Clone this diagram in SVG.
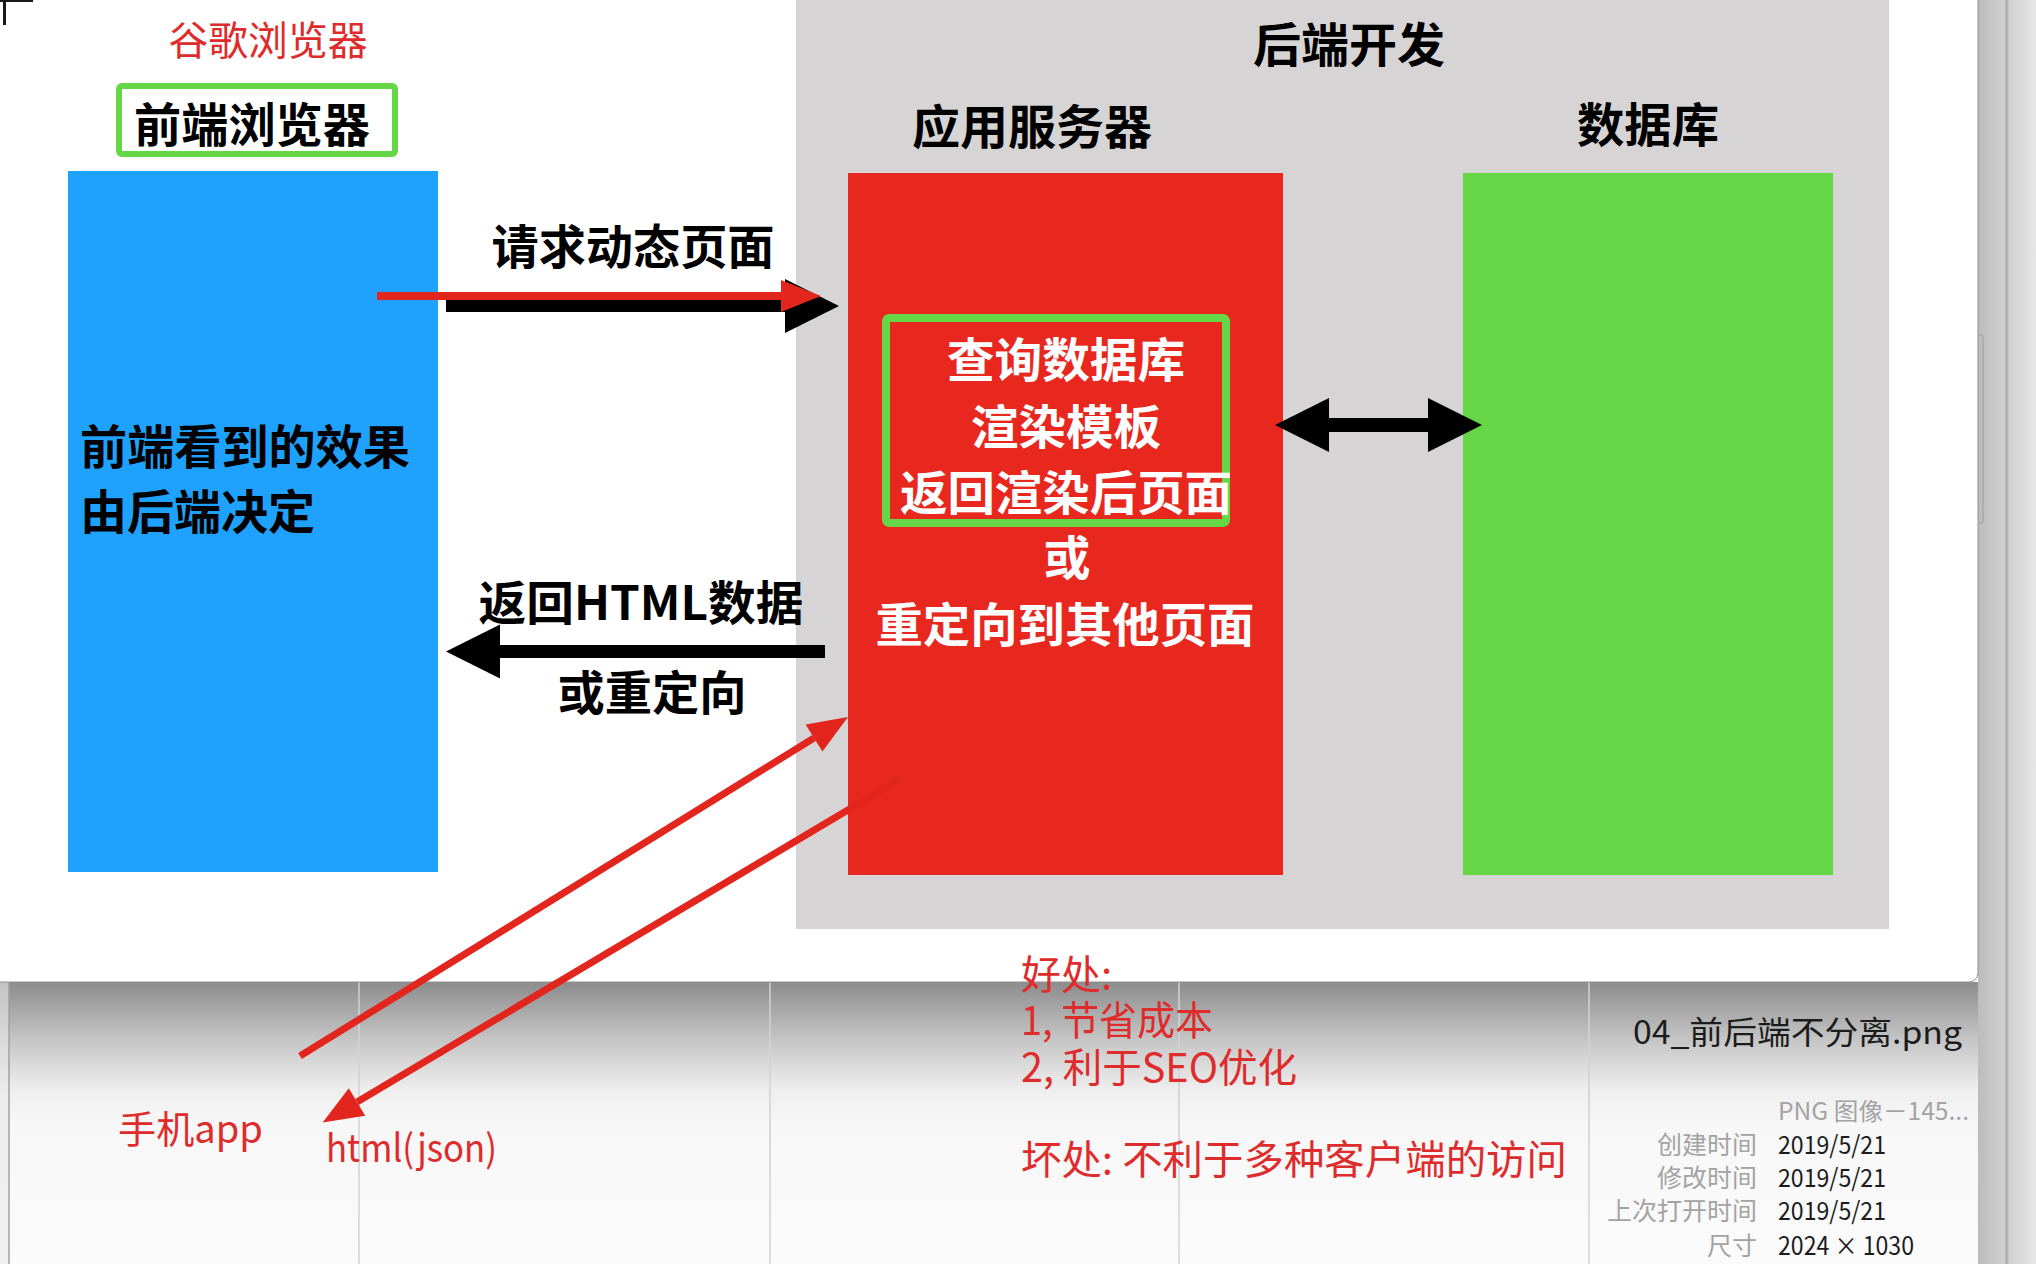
<svg xmlns="http://www.w3.org/2000/svg" width="2036" height="1264" viewBox="0 0 2036 1264">
  <style>
    .bold { font-family: "Noto Sans CJK SC", "Noto Sans", sans-serif; font-weight: 700; font-size: 47px; }
    .blk { fill: #000000; }
    .wht { fill: #ffffff; }
    .note { font-family: "Noto Sans CJK SC", "Noto Sans", sans-serif; font-weight: 400; font-size: 40px; fill: #de2b2b; }
    .finder { font-family: "Noto Sans CJK SC", "Noto Sans", sans-serif; font-weight: 400; font-size: 25px; }
    .lbl { fill: #a3a3a3; }
    .val { fill: #1c1c1c; }
    .divider { stroke: #d2d2d2; stroke-width: 1.5; }
    .blackArrow { stroke: #000000; fill: none; }
    .redArrow { stroke: #e2261e; fill: none; stroke-width: 7; }
  </style>
  <defs>
    <marker id="headBlack" markerUnits="userSpaceOnUse" viewBox="0 -30 56 60" markerWidth="56" markerHeight="60" refX="0" refY="0" orient="auto-start-reverse" overflow="visible">
      <path d="M0,-27 L54,0 L0,27 z" fill="#000000"/>
    </marker>
    <marker id="headRed" markerUnits="userSpaceOnUse" viewBox="0 -20 42 40" markerWidth="42" markerHeight="40" refX="0" refY="0" orient="auto" overflow="visible">
      <path d="M0,-16 L40,0 L0,16 z" fill="#e2261e"/>
    </marker>
    <linearGradient id="shadowGrad" x1="0" y1="0" x2="0" y2="1">
      <stop offset="0" stop-color="#8c8c8c"/>
      <stop offset="0.2" stop-color="#c4c4c4"/>
      <stop offset="0.38" stop-color="#eeeeee"/>
      <stop offset="0.5" stop-color="#f7f7f7"/>
      <stop offset="1" stop-color="#fbfbfb"/>
    </linearGradient>
    <linearGradient id="rightGrad" x1="0" y1="0" x2="1" y2="0">
      <stop offset="0" stop-color="#bcbcbc"/>
      <stop offset="0.45" stop-color="#cfcfcf"/>
      <stop offset="0.5" stop-color="#a6a6a6"/>
      <stop offset="0.53" stop-color="#d0d0d0"/>
      <stop offset="1" stop-color="#e6e6e6"/>
    </linearGradient>
  </defs>

  <!-- background window -->
  <g id="background">
    <rect x="0" y="0" width="2036" height="1264" fill="#fbfbfb"/>
    <rect x="0" y="982" width="2036" height="282" fill="url(#shadowGrad)"/>
    <rect x="0" y="982" width="9" height="282" fill="#e8e8e8" opacity="0.6"/>
    <line class="divider" x1="9" y1="982" x2="9" y2="1264" style="stroke:#a0a0a0"/>
    <line class="divider" x1="359" y1="982" x2="359" y2="1264"/>
    <line class="divider" x1="770" y1="982" x2="770" y2="1264"/>
    <line class="divider" x1="1179" y1="982" x2="1179" y2="1264"/>
    <line class="divider" x1="1589" y1="982" x2="1589" y2="1264"/>
    <rect x="1978" y="0" width="58" height="1264" fill="url(#rightGrad)"/>
    <rect x="-10" y="-10" width="1988" height="992" rx="9" fill="#ffffff" stroke="#8f8f8f" stroke-width="1"/>
    <path d="M1978,335 L1981,335 Q1983,335 1983,338 L1983,520 Q1983,523 1981,523 L1978,523" fill="none" stroke="#a8a8a8" stroke-width="1.5"/>
    <rect x="0" y="0" width="33" height="2" fill="#1a1a1a"/>
    <rect x="3" y="0" width="3" height="25" fill="#1a1a1a"/>
  </g>

  <!-- backend area -->
  <g id="backend">
    <rect x="796" y="-10" width="1093" height="939" fill="#d6d4d5"/>
    <text class="bold blk" x="1349" y="62" text-anchor="middle" textLength="192" lengthAdjust="spacingAndGlyphs">后端开发</text>
  </g>

  <!-- browser node -->
  <g id="browser">
    <text class="note" x="268" y="55" text-anchor="middle" textLength="199" lengthAdjust="spacingAndGlyphs">谷歌浏览器</text>
    <rect x="119" y="86" width="276" height="68" rx="3" fill="#ffffff" stroke="#65d645" stroke-width="6"/>
    <text class="bold blk" x="252" y="142" text-anchor="middle" textLength="236" lengthAdjust="spacingAndGlyphs">前端浏览器</text>
    <rect x="68" y="171" width="370" height="701" fill="#1ea2fe"/>
    <text class="bold blk" x="80" y="464" textLength="330" lengthAdjust="spacingAndGlyphs">前端看到的效果</text>
    <text class="bold blk" x="80" y="529" textLength="235" lengthAdjust="spacingAndGlyphs">由后端决定</text>
  </g>

  <!-- app server node -->
  <g id="server">
    <text class="bold blk" x="1032" y="144" text-anchor="middle" textLength="240" lengthAdjust="spacingAndGlyphs">应用服务器</text>
    <rect x="848" y="173" width="435" height="702" fill="#e8271f"/>
    <rect x="886" y="318" width="340" height="205" rx="3" fill="none" stroke="#65d645" stroke-width="8"/>
    <text class="bold wht" x="1066" y="377" text-anchor="middle" textLength="238" lengthAdjust="spacingAndGlyphs">查询数据库</text>
    <text class="bold wht" x="1066" y="444" text-anchor="middle" textLength="190" lengthAdjust="spacingAndGlyphs">渲染模板</text>
    <text class="bold wht" x="1066" y="510" text-anchor="middle" textLength="332" lengthAdjust="spacingAndGlyphs">返回渲染后页面</text>
    <text class="bold wht" x="1067" y="575" text-anchor="middle">或</text>
    <text class="bold wht" x="1065" y="642" text-anchor="middle" textLength="379" lengthAdjust="spacingAndGlyphs">重定向到其他页面</text>
  </g>

  <!-- database node -->
  <g id="database">
    <text class="bold blk" x="1648" y="142" text-anchor="middle" textLength="142" lengthAdjust="spacingAndGlyphs">数据库</text>
    <rect x="1463" y="173" width="370" height="702" fill="#65d645"/>
  </g>

  <!-- mobile app node -->
  <g id="mobile">
    <text class="note" x="118" y="1143" style="font-size:38px" textLength="145" lengthAdjust="spacingAndGlyphs">手机app</text>
  </g>

  <!-- connectors -->
  <g id="connectors">
    <line class="blackArrow" x1="446" y1="306" x2="785" y2="306" stroke-width="12" marker-end="url(#headBlack)"/>
    <line class="redArrow" x1="377" y1="296" x2="781" y2="296" style="stroke-width:8" marker-end="url(#headRed)"/>
    <text class="bold blk" x="633" y="264" text-anchor="middle" textLength="283" lengthAdjust="spacingAndGlyphs">请求动态页面</text>

    <line class="blackArrow" x1="825" y1="651.5" x2="500" y2="651.5" stroke-width="13" marker-end="url(#headBlack)"/>
    <text class="bold blk" x="641" y="620" text-anchor="middle" textLength="325" lengthAdjust="spacingAndGlyphs">返回HTML数据</text>
    <text class="bold blk" x="652" y="710" text-anchor="middle" textLength="189" lengthAdjust="spacingAndGlyphs">或重定向</text>

    <line class="blackArrow" x1="1329" y1="425" x2="1428" y2="425" stroke-width="14" marker-start="url(#headBlack)" marker-end="url(#headBlack)"/>

    <line class="redArrow" x1="300" y1="1056" x2="814" y2="738" marker-end="url(#headRed)"/>
    <line class="redArrow" x1="900" y1="779" x2="357" y2="1102" marker-end="url(#headRed)"/>
    <text class="note" x="326" y="1162" style="font-size:38px" textLength="171" lengthAdjust="spacingAndGlyphs">html(json)</text>
  </g>

  <!-- notes -->
  <g id="notes">
    <text class="note">
      <tspan x="1021" y="989">好处:</tspan>
      <tspan x="1021" y="1035" textLength="192" lengthAdjust="spacingAndGlyphs">1, 节省成本</tspan>
      <tspan x="1021" y="1082" textLength="276" lengthAdjust="spacingAndGlyphs">2, 利于SEO优化</tspan>
      <tspan x="1021" y="1174" textLength="546" lengthAdjust="spacingAndGlyphs">坏处: 不利于多种客户端的访问</tspan>
    </text>
  </g>

  <!-- file info -->
  <g id="fileinfo">
    <text class="finder val" x="1633" y="1044" style="font-size:32px" textLength="329" lengthAdjust="spacingAndGlyphs">04_前后端不分离.png</text>
    <text class="finder lbl" x="1778" y="1120" style="font-size:24px" textLength="191" lengthAdjust="spacingAndGlyphs">PNG 图像－145...</text>
    <text class="finder lbl" x="1757" y="1154" text-anchor="end">创建时间</text>
    <text class="finder val" x="1778" y="1154" textLength="108" lengthAdjust="spacingAndGlyphs">2019/5/21</text>
    <text class="finder lbl" x="1757" y="1187" text-anchor="end">修改时间</text>
    <text class="finder val" x="1778" y="1187" textLength="108" lengthAdjust="spacingAndGlyphs">2019/5/21</text>
    <text class="finder lbl" x="1757" y="1220" text-anchor="end">上次打开时间</text>
    <text class="finder val" x="1778" y="1220" textLength="108" lengthAdjust="spacingAndGlyphs">2019/5/21</text>
    <text class="finder lbl" x="1757" y="1255" text-anchor="end">尺寸</text>
    <text class="finder val" x="1778" y="1255" textLength="136" lengthAdjust="spacingAndGlyphs">2024 × 1030</text>
  </g>
</svg>
